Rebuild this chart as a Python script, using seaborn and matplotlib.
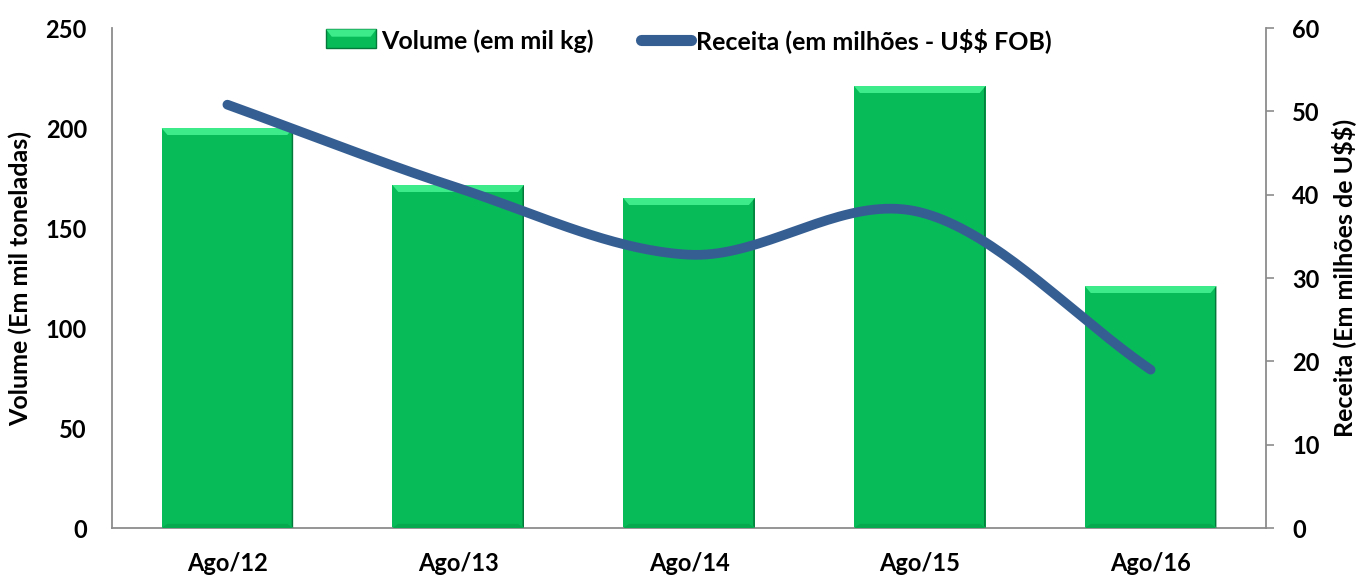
import numpy as np
import pandas as pd
import matplotlib
matplotlib.use("Agg")
import matplotlib.pyplot as plt
from matplotlib.patches import Polygon, Rectangle
from matplotlib.lines import Line2D
from matplotlib.legend_handler import HandlerBase
import seaborn as sns

# Data
periods = ["Ago/12", "Ago/13", "Ago/14", "Ago/15", "Ago/16"]
volume = [200, 171.5, 165, 221, 121]          # mil toneladas
receita = [50.8, 40.8, 32.8, 37.9, 19.0]      # milhões US$

sns.set_theme(style="white")
plt.rcParams["font.family"] = ["Lato", "DejaVu Sans"]
plt.rcParams["font.weight"] = "bold"
plt.rcParams["text.parse_math"] = False
plt.rcParams["text.color"] = "black"
plt.rcParams["axes.labelcolor"] = "black"
plt.rcParams["xtick.color"] = "black"
plt.rcParams["ytick.color"] = "black"

BAR = "#07BC58"
BAR_LIGHT = "#3DEB8B"
BAR_DARK = "#04773A"
LINE = "#355F93"
SPINE = "#8C8C8C"
TICK_FS = 17
LABEL_FS = 18

fig = plt.figure(figsize=(13.59, 5.75), dpi=100)
ax = fig.add_axes([0.0824, 0.0817, 0.8492, 0.8696])

df = pd.DataFrame({"period": periods, "volume": volume})
sns.barplot(data=df, x="period", y="volume", color=BAR, width=0.57,
            saturation=1, ax=ax, zorder=2)

# Bevel edges on each bar
for p in list(ax.patches):
    p.set_edgecolor("none")
    x0, y0 = p.get_x(), p.get_y()
    w, h = p.get_width(), p.get_height()
    bx = w * 0.045
    by = 3.5
    top = [(x0, y0 + h), (x0 + w, y0 + h), (x0 + w - bx, y0 + h - by), (x0 + bx, y0 + h - by)]
    right = [(x0 + w, y0 + h), (x0 + w, y0), (x0 + w - bx * 0.25, y0 + by * 0.3),
             (x0 + w - bx * 0.25, y0 + h - by * 0.3)]
    bottom = [(x0, y0), (x0 + w, y0), (x0 + w - bx, y0 + by * 0.6), (x0 + bx, y0 + by * 0.6)]
    ax.add_patch(Polygon(top, closed=True, facecolor=BAR_LIGHT, edgecolor="none", zorder=3))
    ax.add_patch(Polygon(bottom, closed=True, facecolor="#06A94E", edgecolor="none", zorder=3))
    ax.add_patch(Polygon(right, closed=True, facecolor=BAR_DARK, edgecolor="none", zorder=3))

ax.set_xlim(-0.5, 4.5)
ax.set_ylim(0, 250)
ax.set_yticks(range(0, 251, 50))
ax.set_xlabel("")
ax.set_ylabel("Volume (Em mil toneladas)", fontsize=LABEL_FS, fontweight="bold", labelpad=10)
ax.tick_params(axis="y", length=0, pad=18, labelsize=TICK_FS, labelcolor="black")
ax.tick_params(axis="x", length=0, pad=17, labelsize=TICK_FS, labelcolor="black")
for lbl in ax.get_xticklabels() + ax.get_yticklabels():
    lbl.set_fontweight("bold")
for s in ["top", "right"]:
    ax.spines[s].set_visible(False)
for s in ["left", "bottom"]:
    ax.spines[s].set_color(SPINE)
    ax.spines[s].set_linewidth(1.3)

# Secondary axis: revenue with a smoothed curve
ax2 = ax.twinx()
ax2.set_ylim(0, 60)
ax2.set_yticks(range(0, 61, 10))


def catmull_rom(xs, ys, n=40):
    xs = np.asarray(xs, float)
    ys = np.asarray(ys, float)
    px = np.concatenate([[2 * xs[0] - xs[1]], xs, [2 * xs[-1] - xs[-2]]])
    py = np.concatenate([[2 * ys[0] - ys[1]], ys, [2 * ys[-1] - ys[-2]]])
    out_x, out_y = [], []
    for i in range(1, len(px) - 2):
        t = np.linspace(0, 1, n, endpoint=(i == len(px) - 3))
        for arr, out in ((px, out_x), (py, out_y)):
            p0, p1, p2, p3 = arr[i - 1], arr[i], arr[i + 1], arr[i + 2]
            out.extend(0.5 * ((2 * p1) + (-p0 + p2) * t +
                              (2 * p0 - 5 * p1 + 4 * p2 - p3) * t ** 2 +
                              (-p0 + 3 * p1 - 3 * p2 + p3) * t ** 3))
    return np.array(out_x), np.array(out_y)


sx, sy = catmull_rom(np.arange(len(periods)), receita)
curve = pd.DataFrame({"x": sx, "y": sy})
sns.lineplot(data=curve, x="x", y="y", sort=False, color=LINE, linewidth=7,
             ax=ax2, zorder=4, solid_capstyle="round")
ax2.set_xlim(-0.5, 4.5)
ax2.set_xlabel("")
ax2.set_ylabel("Receita (Em milhões de U$$)", fontsize=LABEL_FS, fontweight="bold", labelpad=8)
ax2.tick_params(axis="y", length=6, width=1.2, color=SPINE, pad=13, labelsize=TICK_FS,
                labelcolor="black")
for lbl in ax2.get_yticklabels():
    lbl.set_fontweight("bold")
for s in ["top", "left", "bottom"]:
    ax2.spines[s].set_visible(False)
ax2.spines["right"].set_color(SPINE)
ax2.spines["right"].set_linewidth(1.3)
ax2.grid(False)
ax.grid(False)


class BevelHandler(HandlerBase):
    def create_artists(self, legend, orig, xd, yd, width, height, fontsize, trans):
        h = height * 0.95
        y = yd + (height - h) / 2
        r = Rectangle((xd, y), width, h, facecolor=BAR, edgecolor=BAR_DARK,
                      linewidth=1, transform=trans)
        t = Polygon([(xd, y + h), (xd + width, y + h),
                     (xd + width - 4, y + h * 0.6), (xd + 4, y + h * 0.6)],
                    closed=True, facecolor=BAR_LIGHT, edgecolor="none", transform=trans)
        return [r, t]


bar_handle = Rectangle((0, 0), 1, 1)
line_handle = Line2D([], [], color=LINE, linewidth=8, solid_capstyle="round")
leg = ax2.legend([bar_handle, line_handle],
                 ["Volume (em mil kg)", "Receita (em milhões - U$$ FOB)"],
                 handler_map={Rectangle: BevelHandler()},
                 loc="upper center", bbox_to_anchor=(0.5, 1.045), ncol=2,
                 frameon=False, fontsize=LABEL_FS, handlelength=2.0, handleheight=0.8,
                 handletextpad=0.2, columnspacing=1.9)
for t in leg.get_texts():
    t.set_fontweight("bold")
    t.set_color("black")

fig.savefig("out.png", dpi=100)
